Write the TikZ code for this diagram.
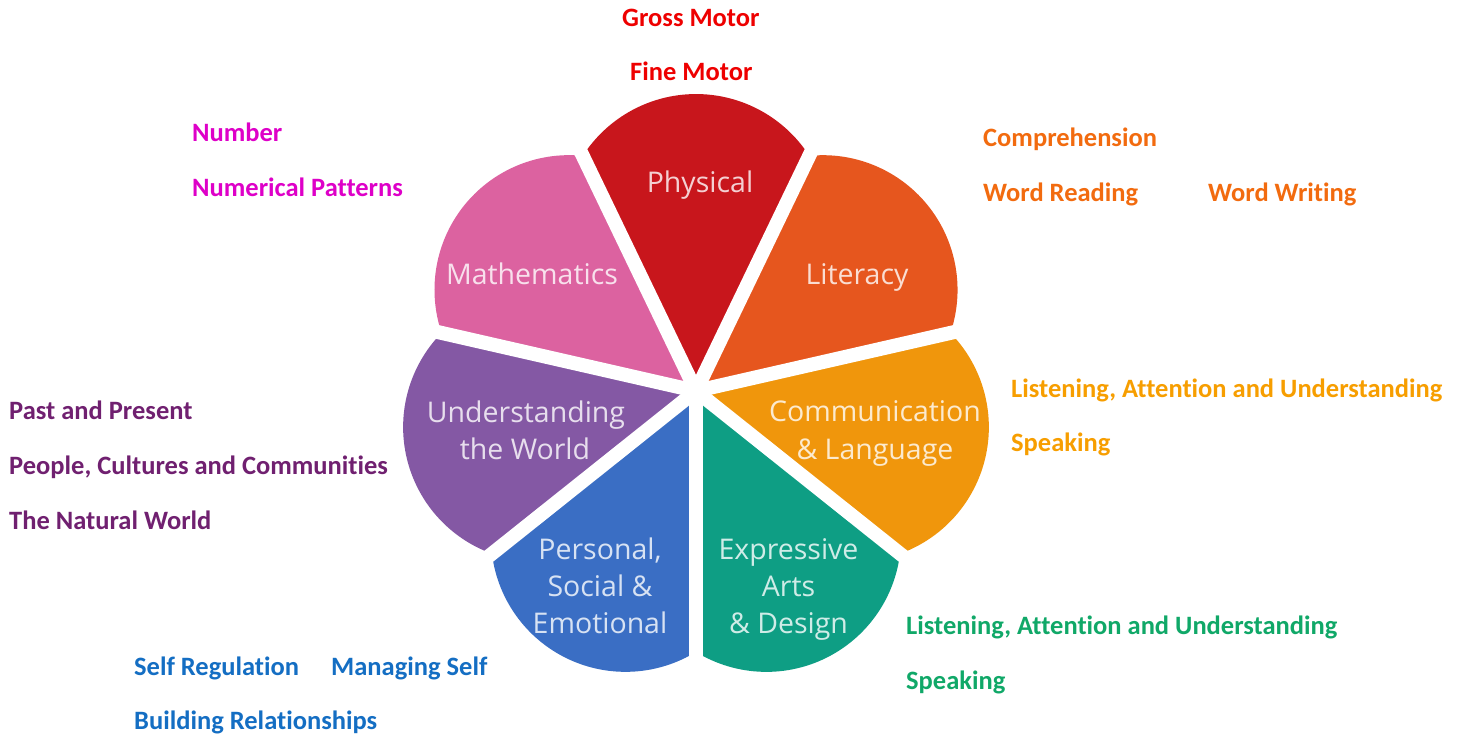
\documentclass[tikz,border=0pt]{standalone}
\usepackage{fontspec}
\setmainfont{Carlito}[Ligatures=CommonOff]
\newfontfamily\petalfont{Open Sans}
\usetikzlibrary{calc}
\definecolor{cPhys}{RGB}{200,22,28}
\definecolor{cLit}{RGB}{230,86,30}
\definecolor{cComm}{RGB}{240,150,12}
\definecolor{cExp}{RGB}{14,158,132}
\definecolor{cPers}{RGB}{58,110,196}
\definecolor{cUnd}{RGB}{132,88,164}
\definecolor{cMath}{RGB}{220,98,160}
\definecolor{tRed}{RGB}{238,0,0}
\definecolor{tMag}{RGB}{222,0,200}
\definecolor{tLit}{RGB}{242,107,15}
\definecolor{tComm}{RGB}{247,158,0}
\definecolor{tUnd}{RGB}{112,32,112}
\definecolor{tPers}{RGB}{20,110,195}
\definecolor{tExp}{RGB}{16,168,104}
\begin{document}
\begin{tikzpicture}[x=1pt,y=1pt,
  side/.style={anchor=base west, inner sep=0pt, font=\fontsize{26.5}{26.5}\selectfont\bfseries},
  plabel/.style={anchor=base, inner sep=0pt, font=\petalfont\fontsize{28.5}{28.5}\selectfont},
  gapline/.style={white, line width=14pt}]
\fill[white] (0,0) rectangle (1460,735);
\useasboundingbox (0,0) rectangle (1460,735);
\coordinate (C) at (696,344);
\def\rc{261}\def\rr{134.6}\def\phiang{57.26}\def\half{25.714}
% petals
\foreach \a/\col in {90/cPhys, 38.571/cLit, -12.857/cComm, -64.286/cExp, -115.714/cPers, -167.143/cUnd, 141.429/cMath}{
  \fill[\col] (C) -- ($(C)+(\a-\half:\rc)$) arc[start angle=\a-\phiang, end angle=\a+\phiang, radius=\rr pt] -- cycle;
}
% gaps between petals
\foreach \b in {115.714, 64.286, 12.857, -38.571, -90, -141.429, 167.143}{
  \draw[gapline] (C) -- ++(\b:330);
}
\fill[white] (C) circle[radius=9pt];
% petal labels
\node[plabel, text=white!80!cPhys] (lPhys) at (700,542) {Physical};
\node[plabel, text=white!80!cLit] (lLit) at (857,450) {Literacy};
\node[plabel, text=white!80!cMath] (lMath) at (532,450) {Mathematics};
\node[plabel, text=white!80!cComm] (lComm1) at (875,313) {Communication};
\node[plabel, text=white!80!cComm] (lComm2) at (875,275) {\& Language};
\node[plabel, text=white!80!cUnd] (lUnd1) at (526,312) {Understanding};
\node[plabel, text=white!80!cUnd] (lUnd2) at (525,275) {the World};
\node[plabel, text=white!80!cPers] (lPers1) at (600,175) {Personal,};
\node[plabel, text=white!80!cPers] (lPers2) at (600,138) {Social \&};
\node[plabel, text=white!80!cPers] (lPers3) at (600,101) {Emotional};
\node[plabel, text=white!80!cExp] (lExp1) at (788.5,175) {Expressive};
\node[plabel, text=white!80!cExp] (lExp2) at (788.5,138) {Arts};
\node[plabel, text=white!80!cExp] (lExp3) at (788.5,101) {\& Design};
% side labels
\node[side, text=tRed] (gm) at (622,708) {Gross Motor};
\node[side, text=tRed] (fm) at (630,654) {Fine Motor};
\node[side, text=tMag] (num) at (192,593) {Number};
\node[side, text=tMag] (nump) at (192,538) {Numerical Patterns};
\node[side, text=tLit] (comp) at (983,588) {Comprehension};
\node[side, text=tLit] (wr) at (983,533) {Word Reading};
\node[side, text=tLit] (ww) at (1208,533) {Word Writing};
\node[side, text=tComm] (lau1) at (1011,337) {Listening, Attention and Understanding};
\node[side, text=tComm] (spk1) at (1011,283) {Speaking};
\node[side, text=tUnd] (pp) at (9,315) {Past and Present};
\node[side, text=tUnd] (pcc) at (9,260) {People, Cultures and Communities};
\node[side, text=tUnd] (tnw) at (9,205) {The Natural World};
\node[side, text=tExp] (lau2) at (906,100) {Listening, Attention and Understanding};
\node[side, text=tExp] (spk2) at (906,45) {Speaking};
\node[side, text=tPers] (sr) at (134,59) {Self Regulation};
\node[side, text=tPers] (ms) at (331,59) {Managing Self};
\node[side, text=tPers] (br) at (134,5) {Building Relationships};
\end{tikzpicture}
\end{document}
